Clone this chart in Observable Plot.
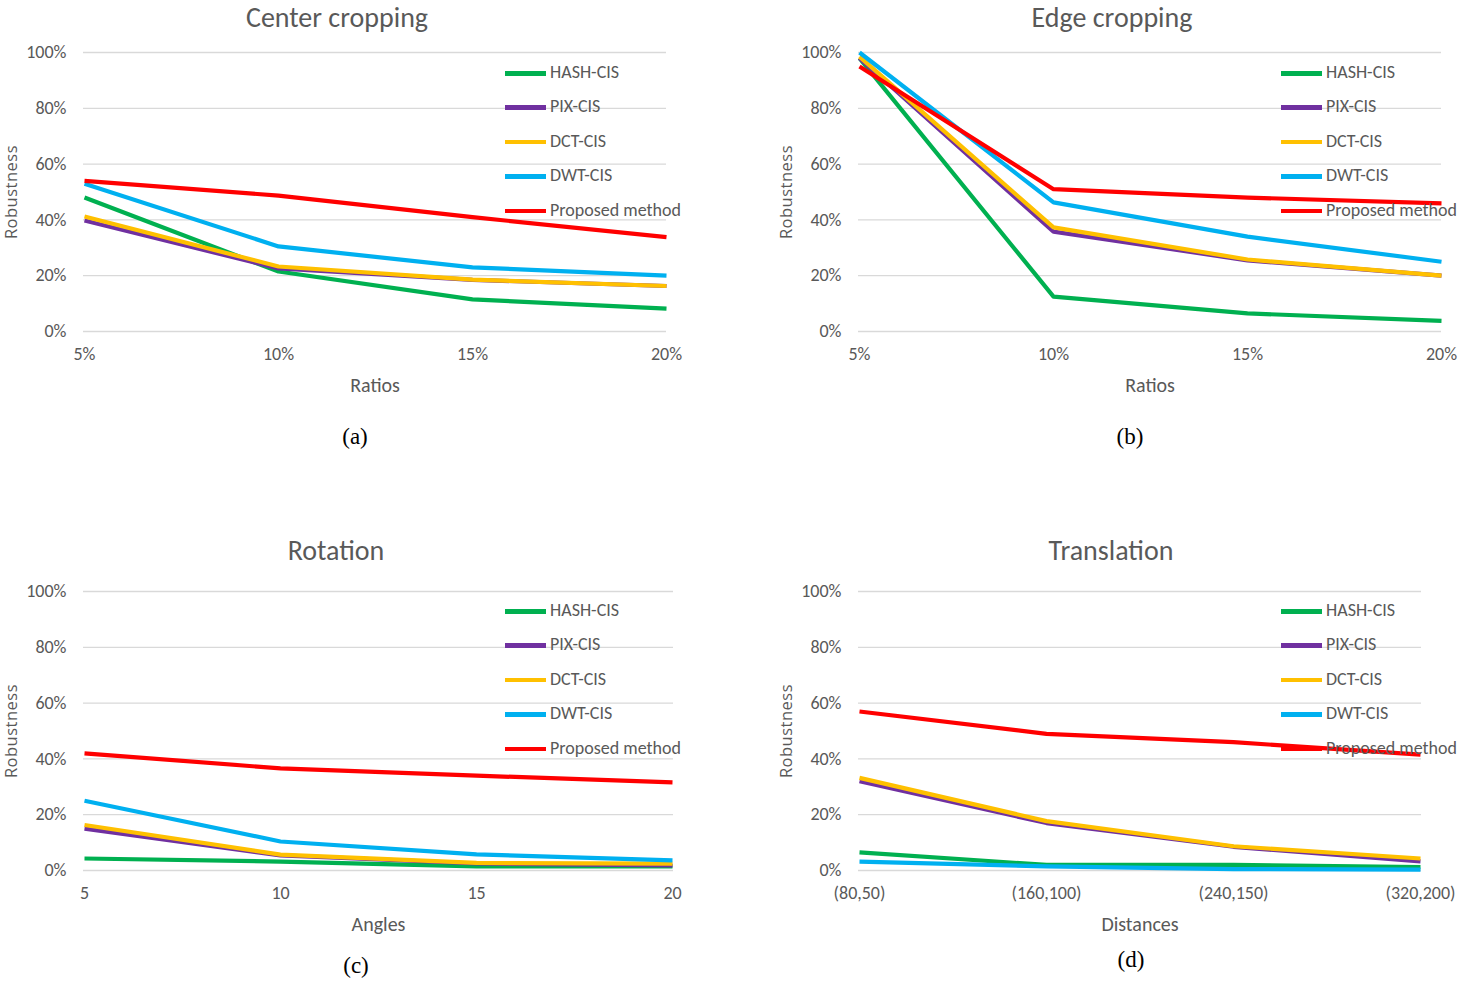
<!DOCTYPE html>
<html>
<head>
<meta charset="utf-8">
<script src="https://cdn.jsdelivr.net/npm/d3@7"></script>
<script src="https://cdn.jsdelivr.net/npm/@observablehq/plot@0.6"></script>
<style>
  html, body { margin: 0; padding: 0; background: #fff; }
  #page { position: relative; width: 1458px; height: 981px; overflow: hidden; background: #fff; }
  .panel { position: absolute; }
  .title { position: absolute; text-align: center; font-family: Carlito, Lato, sans-serif; font-size: 28px; line-height: normal; color: #595959; white-space: nowrap; }
  .caption { position: absolute; text-align: center; font-family: "Liberation Serif", "DejaVu Serif", serif; font-size: 23px; color: #000; white-space: nowrap; }
  .leg { position: absolute; font-family: Carlito, Lato, sans-serif; font-size: 18px; color: #595959; white-space: nowrap; }
  .leg .sw { position: absolute; left: 0; width: 41px; height: 4.5px; }
  .leg .tx { position: absolute; left: 45px; line-height: 18px; }
  svg g[aria-label="y-axis tick label"] text, svg g[aria-label="x-axis tick label"] text { font-family: Carlito, Lato, sans-serif; font-size: 18px; fill: #595959; }
  svg g[aria-label="y-axis label"] text { font-family: "Open Sans", sans-serif; font-size: 16.5px; fill: #595959; letter-spacing: 0.5px; }
  svg g[aria-label="x-axis label"] text { font-family: Carlito, Lato, sans-serif; font-size: 20px; fill: #595959; }
</style>
</head>
<body>
<div id="page"></div>
<script>
// ---- data ----
const methods = ["HASH-CIS", "PIX-CIS", "DCT-CIS", "DWT-CIS", "Proposed method"];
const colors = ["#00B050", "#7030A0", "#FFC000", "#00B0F0", "#FF0000"];
const yTicks = [0, 0.2, 0.4, 0.6, 0.8, 1.0];

const ratios = ["5%", "10%", "15%", "20%"];
const angles = ["5", "10", "15", "20"];
const distances = ["(80,50)", "(160,100)", "(240,150)", "(320,200)"];

// values in percent, one row per method (order as methods)
const centerHASH = [48.0, 21.5, 11.5, 8.2];
const centerPIX = [39.8, 22.6, 18.5, 16.3];
const centerDCT = [41.2, 23.3, 18.6, 16.3];
const centerDWT = [53.0, 30.5, 23.0, 20.0];
const centerProp = [54.0, 48.7, 41.0, 33.8];

const edgeHASH = [98.0, 12.5, 6.5, 3.8];
const edgePIX = [98.0, 35.8, 25.5, 20.0];
const edgeDCT = [98.5, 37.3, 25.8, 20.0];
const edgeDWT = [100.0, 46.3, 34.0, 25.0];
const edgeProp = [95.0, 51.0, 48.0, 45.9];

const rotHASH = [4.3, 3.2, 1.5, 1.5];
const rotPIX = [15.0, 5.4, 2.5, 1.8];
const rotDCT = [16.3, 5.7, 2.7, 2.5];
const rotDWT = [25.0, 10.4, 5.8, 3.6];
const rotProp = [42.0, 36.6, 34.0, 31.6];

const transHASH = [6.5, 2.0, 2.0, 1.2];
const transPIX = [32.0, 17.0, 8.5, 3.3];
const transDCT = [33.2, 17.7, 8.7, 4.3];
const transDWT = [3.2, 1.5, 0.5, 0.3];
const transProp = [57.0, 49.0, 46.0, 41.5];

const page = document.getElementById("page");

function addPanel(cfg) {
  const rows = [];
  cfg.series.forEach((vals, i) => {
    vals.forEach((v, j) => rows.push({method: methods[i], cat: cfg.cats[j], v: v / 100}));
  });
  const chart = Plot.plot({
    width: cfg.width,
    height: cfg.height,
    marginLeft: cfg.mL,
    marginRight: cfg.mR,
    marginTop: cfg.mT,
    marginBottom: cfg.mB,
    style: {background: "transparent", overflow: "visible"},
    x: {type: "point", domain: cfg.cats, padding: 0},
    y: {domain: [0, 1]},
    color: {domain: methods, range: colors},
    marks: [
      Plot.gridY(yTicks, {stroke: "#d9d9d9", strokeOpacity: 1, strokeWidth: 1.3}),
      Plot.axisY({ticks: yTicks, tickFormat: d3.format(".0%"), tickSize: 0, tickPadding: 17,
        label: "Robustness", labelAnchor: "center", labelArrow: "none", labelOffset: cfg.mL - 5}),
      Plot.axisX({tickSize: 0, tickPadding: 16, label: cfg.xLabel, labelAnchor: "center",
        labelArrow: "none", labelOffset: 60}),
      Plot.line(rows, {x: "cat", y: "v", z: "method", stroke: "method", strokeWidth: 4.2,
        strokeLinejoin: "round", strokeLinecap: "butt"})
    ]
  });
  const holder = document.createElement("div");
  holder.className = "panel";
  holder.style.left = cfg.left + "px";
  holder.style.top = cfg.top + "px";
  holder.appendChild(chart);
  page.appendChild(holder);

  const t = document.createElement("div");
  t.className = "title";
  t.textContent = cfg.title;
  t.style.left = (cfg.titleX - 200) + "px";
  t.style.width = "400px";
  t.style.top = cfg.titleY + "px";
  page.appendChild(t);

  const c = document.createElement("div");
  c.className = "caption";
  c.textContent = cfg.caption;
  c.style.left = (cfg.capX - 50) + "px";
  c.style.width = "100px";
  c.style.top = cfg.capY + "px";
  page.appendChild(c);

  methods.forEach((m, i) => {
    const row = document.createElement("div");
    row.className = "leg";
    row.style.left = cfg.legX + "px";
    row.style.top = (cfg.legY + i * 34.4) + "px";
    const sw = document.createElement("div");
    sw.className = "sw";
    sw.style.background = colors[i];
    sw.style.top = "-2px";
    const tx = document.createElement("div");
    tx.className = "tx";
    tx.style.top = "-10px";
    tx.textContent = m;
    row.appendChild(sw);
    row.appendChild(tx);
    page.appendChild(row);
  });
}

addPanel({left: 0, top: 0, width: 720, height: 420, mL: 83, mR: 720 - 666, mT: 52, mB: 420 - 331,
  cats: ratios, xLabel: "Ratios", series: [centerHASH, centerPIX, centerDCT, centerDWT, centerProp],
  title: "Center cropping", titleX: 337, titleY: 0, caption: "(a)", capX: 355, capY: 424,
  legX: 505, legY: 73});

addPanel({left: 775, top: 0, width: 683, height: 420, mL: 83, mR: 683 - (1441 - 775), mT: 52, mB: 420 - 331,
  cats: ratios, xLabel: "Ratios", series: [edgeHASH, edgePIX, edgeDCT, edgeDWT, edgeProp],
  title: "Edge cropping", titleX: 1112, titleY: 0, caption: "(b)", capX: 1130, capY: 424,
  legX: 1281, legY: 73});

addPanel({left: 0, top: 540, width: 720, height: 420, mL: 83, mR: 720 - 673, mT: 51, mB: 420 - 330,
  cats: angles, xLabel: "Angles", series: [rotHASH, rotPIX, rotDCT, rotDWT, rotProp],
  title: "Rotation", titleX: 336, titleY: 533, caption: "(c)", capX: 356, capY: 953,
  legX: 505, legY: 611});

addPanel({left: 775, top: 540, width: 683, height: 420, mL: 83, mR: 683 - (1421 - 775), mT: 51, mB: 420 - 330,
  cats: distances, xLabel: "Distances", series: [transHASH, transPIX, transDCT, transDWT, transProp],
  title: "Translation", titleX: 1111, titleY: 533, caption: "(d)", capX: 1131, capY: 947,
  legX: 1281, legY: 611});
</script>
</body>
</html>
